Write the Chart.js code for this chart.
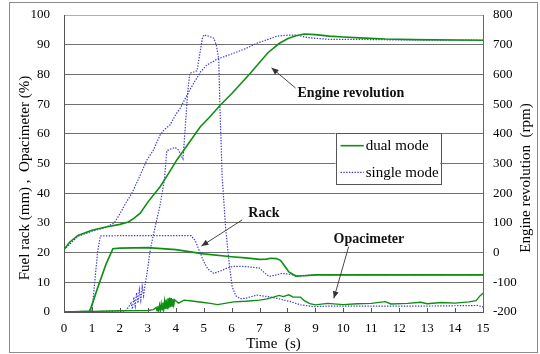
<!DOCTYPE html>
<html><head><meta charset="utf-8">
<script src="https://cdn.jsdelivr.net/npm/chart.js@4.4.1/dist/chart.umd.min.js"></script>
<style>html,body{margin:0;padding:0;background:#fff;}#wrap{width:540px;height:354px;position:relative;}</style>
</head><body><div id="wrap"><canvas id="c" width="540" height="354"></canvas></div>
<script>
// ---- data (time in s) ----
const dualRpmT = [0,0.2,0.5,1,1.5,2,2.3,2.5,2.73,3,3.44,3.7,4.04,4.4,4.88,5.2,5.6,6,6.67,7,7.3,7.7,8,8.3,8.6,9,9.5,10,10.6,11.5,12.5,14,15];
const dualRpm  = [10,35,58,75,86,95,103,115,133,170,222,260,312,360,424,455,497,535,604,640,673,704,720,730,736,734,729,726,723,719,717,716,715];
const singleRpmT = [0,0.5,1,1.5,1.8,2,2.2,2.43,2.7,2.97,3.2,3.44,3.6,3.8,4,4.16,4.4,4.64,4.9,5.12,5.5,6.07,6.5,6.91,7.3,7.63,8,8.3,8.8,9.5,10.5,12,15];
const singleRpm  = [10,55,72,85,100,130,165,200,255,312,345,396,415,430,465,486,530,570,610,632,652,671,687,705,718,729,732,732,723,718,718,716,715];
const dualRackT = [0,0.9,0.95,1.2,1.5,1.75,2,3,4,5,6,6.5,7,7.25,7.4,7.6,7.75,7.9,8.05,8.3,8.6,9,15];
const dualRack  = [0,0.2,1,8,16,21.3,21.5,21.7,21,19.6,18.6,18.2,17.7,17.8,18.1,18.0,17.4,15.5,13.5,12.1,12.2,12.5,12.5];
const singleRackT = [0,1,1.1,1.2,1.3,2,4.55,4.7,4.85,5,5.15,5.36,5.6,5.84,6.07,6.5,7,7.2,7.35,7.6,7.8,8,8.35,9,15];
const singleRack  = [0,0.3,10,20,25.6,25.7,25.7,24,20.5,17,14.5,13,13.8,14.8,15.4,15.3,14.8,13,12,12.5,13,12.8,12.2,12.5,12.5];
const singleOpacT = [0,2.2,2.3,2.4,2.45,2.5,2.55,2.6,2.65,2.7,2.75,2.8,2.85,2.9,2.97,3.09,3.2,3.44,3.6,3.68,3.85,3.98,4.1,4.2,4.26,4.34,4.42,4.5,4.64,4.76,4.88,4.95,5,5.2,5.36,5.45,5.54,5.58,5.66,5.78,5.9,6.02,6.15,6.3,6.5,6.9,7.27,7.63,7.87,8.11,8.47,8.95,9.5,11,13,14,14.8,15];
const singleOpac  = [0,0.3,1.5,3,1,5,2,6.5,3,7.5,4,8.5,5.5,9,13,21,26,36,45,54.3,55,55.4,54.5,52.5,51.5,62,73,80.4,80.8,81.2,88,92,93.3,92.8,92.2,90,85,70,46,29,17.5,8.5,5.5,4.5,4.6,5.7,5.2,4.6,4,3.5,2.4,1.8,2,2,2,2.1,2.2,1.7];
const dualOpacT = [0,1,2,3,3.2,3.3,3.33,3.36,3.39,3.42,3.45,3.48,3.51,3.54,3.57,3.6,3.63,3.66,3.69,3.72,3.75,3.78,3.81,3.84,3.87,3.9,3.93,3.96,4,4.1,4.3,4.5,5,5.24,5.5,6.07,6.5,7,7.27,7.5,7.7,7.85,8.05,8.2,8.47,8.6,8.8,9,9.43,10,10.5,11,11.5,11.7,12.3,12.77,13,13.5,14,14.5,14.75,14.9,15];
const dualOpac  = [0,0.2,0.4,0.5,0.8,1.5,0.4,1.9,0.5,2.3,0.6,2.7,0.7,3.2,0.8,3.6,1,4.2,1.2,4.6,1.4,4.9,1.6,4.7,2,4.4,2.4,4.1,3.8,3,4,3.8,3.2,2.9,2.5,3.4,3.6,4,4.4,5,5.6,5.2,5.8,5,5,3.8,2.8,2.4,2.9,2.5,2.8,2.9,3.5,2.7,2.9,3.3,2.8,3.2,3,3.4,3.8,5.5,6.3];

const leftTicks = [0,10,20,30,40,50,60,70,80,90,100];
const rightTicks = [-200,-100,0,100,200,300,400,500,600,700,800];
const timeTicks = [0,1,2,3,4,5,6,7,8,9,10,11,12,13,14,15];
const legendLabels = ['dual mode','single mode'];
const noteTexts = ['Engine revolution','Rack','Opacimeter'];
// annotation anchors in data units [t, %]
const noteAt = [[8.36,73.6],[6.6,33.2],[9.65,24.6]];
const arrowFrom = [[8.29,75.4],[6.38,31],[10.19,22]];
const arrowTo = [[7.43,82.2],[4.92,22.2],[9.66,4.6]];

const GREEN = '#0f8f12';
const BLUE = '#3a3ae0';
const SERIF = '"Liberation Serif","Times New Roman",serif';
Chart.defaults.font.family = SERIF;
Chart.defaults.color = '#000';

const pts = (T,V) => T.map((t,i)=>({x:t,y:V[i]}));
const greenDs = (label,T,V,axis,w) => ({label, data:pts(T,V), yAxisID:axis, borderColor:GREEN, borderWidth:w||1.7, pointRadius:0, tension:0, fill:false});
const blueDs = (label,T,V,axis) => ({label, data:pts(T,V), yAxisID:axis, borderColor:BLUE, borderWidth:1.2, borderDash:[1.4,1.4], pointRadius:0, tension:0, fill:false});

const frame = {
  id:'frame',
  beforeDraw(chart){
    const ctx = chart.ctx; ctx.save();
    ctx.fillStyle='#fff'; ctx.fillRect(0,0,chart.width,chart.height);
    ctx.strokeStyle='#8c8c8c'; ctx.lineWidth=1; ctx.strokeRect(9.5,2.5,528,350);
    ctx.restore();
  }
};

function arrow(ctx,x1,y1,x2,y2){
  ctx.beginPath(); ctx.moveTo(x1,y1); ctx.lineTo(x2,y2); ctx.stroke();
  const a = Math.atan2(y2-y1,x2-x1), L=7, W=3;
  ctx.beginPath();
  ctx.moveTo(x2,y2);
  ctx.lineTo(x2-L*Math.cos(a)+W*Math.sin(a), y2-L*Math.sin(a)-W*Math.cos(a));
  ctx.lineTo(x2-L*Math.cos(a)-W*Math.sin(a), y2-L*Math.sin(a)+W*Math.cos(a));
  ctx.closePath(); ctx.fill();
}

const extras = {
  id:'extras',
  afterDraw(chart){
    const {ctx, chartArea:ca, scales} = chart;
    const x = scales.x, y = scales.y;
    ctx.save();
    // inward ticks on time axis
    ctx.strokeStyle='#555'; ctx.lineWidth=1;
    timeTicks.forEach(t=>{ const px=Math.round(x.getPixelForValue(t))+0.5; ctx.beginPath(); ctx.moveTo(px,ca.bottom); ctx.lineTo(px,ca.bottom-4); ctx.stroke(); });
    // arrows + notes
    ctx.strokeStyle='#333'; ctx.fillStyle='#333'; ctx.lineWidth=0.9;
    arrowFrom.forEach((f,i)=>{ const to=arrowTo[i]; arrow(ctx,x.getPixelForValue(f[0]),y.getPixelForValue(f[1]),x.getPixelForValue(to[0]),y.getPixelForValue(to[1])); });
    ctx.fillStyle='#111'; ctx.font='bold 14px '+SERIF; ctx.textAlign='left'; ctx.textBaseline='middle';
    noteTexts.forEach((s,i)=>ctx.fillText(s, x.getPixelForValue(noteAt[i][0]), y.getPixelForValue(noteAt[i][1])));
    // legend box
    const bx1=x.getPixelForValue(9.72), bx2=x.getPixelForValue(13.47), by1=y.getPixelForValue(60.3), by2=y.getPixelForValue(43);
    ctx.fillStyle='#fff'; ctx.fillRect(bx1,by1,bx2-bx1,by2-by1);
    ctx.strokeStyle='#555'; ctx.lineWidth=1; ctx.strokeRect(Math.round(bx1)+0.5,Math.round(by1)+0.5,Math.round(bx2-bx1),Math.round(by2-by1));
    const ly=[y.getPixelForValue(56), y.getPixelForValue(47)];
    const lx1=x.getPixelForValue(9.9), lx2=x.getPixelForValue(10.73), tx=x.getPixelForValue(10.8);
    const dsStyle=[chart.data.datasets[0], chart.data.datasets[1]];
    ctx.font='15px '+SERIF; ctx.fillStyle='#000'; ctx.textAlign='left'; ctx.textBaseline='middle';
    legendLabels.forEach((s,i)=>{
      const d=dsStyle[i];
      ctx.strokeStyle=d.borderColor; ctx.lineWidth=d.borderWidth; ctx.setLineDash(d.borderDash||[]);
      ctx.beginPath(); ctx.moveTo(lx1,ly[i]); ctx.lineTo(lx2,ly[i]); ctx.stroke();
      ctx.setLineDash([]);
      ctx.fillText(s, tx, ly[i]+0.5);
    });
    // vertical axis titles (both read bottom-to-top)
    ctx.font='15px '+SERIF; ctx.fillStyle='#000'; ctx.textAlign='center'; ctx.textBaseline='middle';
    const midY = 178;
    ctx.save(); ctx.translate(25, midY); ctx.rotate(-Math.PI/2); ctx.fillText('Fuel rack (mm) ,  Opacimeter (%)',0,0); ctx.restore();
    ctx.save(); ctx.translate(526, midY); ctx.rotate(-Math.PI/2); ctx.fillText('Engine revolution  (rpm)',0,0); ctx.restore();
    ctx.restore();
  }
};

function fitV(w){ return (s)=>{ s.width = w; s.paddingTop = 0; s.paddingBottom = 0; }; }

new Chart(document.getElementById('c'), {
  type:'line',
  data:{ datasets:[
    greenDs('dual mode', dualRpmT, dualRpm, 'y2', 1.6),
    blueDs('single mode', singleRpmT, singleRpm, 'y2'),
    greenDs('dual rack', dualRackT, dualRack, 'y'),
    blueDs('single rack', singleRackT, singleRack, 'y'),
    greenDs('dual opacimeter', dualOpacT, dualOpac, 'y', 1.4),
    blueDs('single opacimeter', singleOpacT, singleOpac, 'y')
  ]},
  options:{
    responsive:false, animation:false, devicePixelRatio:1,
    layout:{padding:{top:15,left:0,right:0,bottom:0}},
    plugins:{legend:{display:false}, tooltip:{enabled:false}},
    scales:{
      x:{type:'linear', min:0, max:15,
         afterBuildTicks(s){ s.ticks = timeTicks.map(v=>({value:v})); },
         afterFit(s){ s.height = 42; s.paddingLeft = 0; s.paddingRight = 0; },
         grid:{drawOnChartArea:false, drawTicks:false},
         border:{display:true, color:'#555', width:1},
         ticks:{padding:9, font:{size:13, family:SERIF}, color:'#000', maxRotation:0, autoSkip:false},
         title:{display:true, text:'Time  (s)', font:{size:15, family:SERIF}, color:'#000', padding:{top:0,bottom:1}}},
      y:{type:'linear', position:'left', min:0, max:100,
         afterBuildTicks(s){ s.ticks = leftTicks.map(v=>({value:v})); },
         afterFit: fitV(64),
         grid:{color:(c)=> c.tick && c.tick.value===100 ? '#b0b0b0' : '#707070', lineWidth:1, drawTicks:false},
         border:{display:true, color:'#555', width:1},
         ticks:{padding:14, font:{size:13, family:SERIF}, color:'#000'}},
      y2:{type:'linear', position:'right', min:-200, max:800,
         afterBuildTicks(s){ s.ticks = rightTicks.map(v=>({value:v})); },
         afterFit: fitV(57),
         grid:{drawOnChartArea:false, drawTicks:false},
         border:{display:true, color:'#666', width:1},
         ticks:{padding:10, font:{size:13, family:SERIF}, color:'#000'}}
    }
  },
  plugins:[frame, extras]
});
</script></body></html>
